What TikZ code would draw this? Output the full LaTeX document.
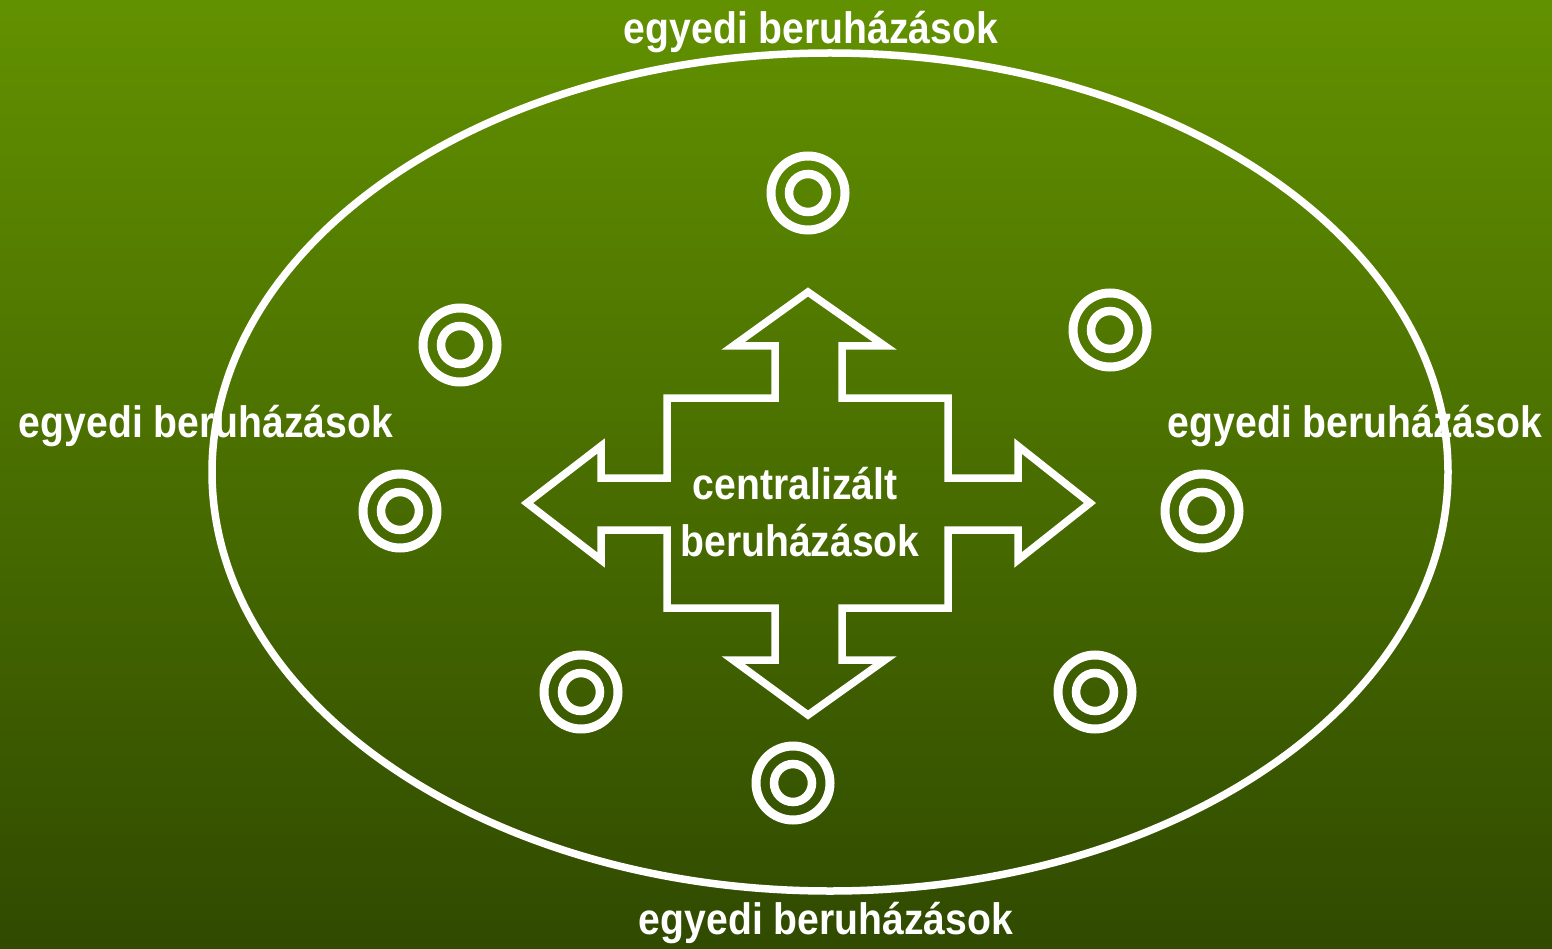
\documentclass[tikz,border=0pt]{standalone}
\usepackage{fontspec}
\setmainfont{Liberation Sans}[FakeStretch=0.89]
\definecolor{bgtop}{RGB}{98,145,0}
\definecolor{bgbot}{RGB}{48,74,0}
\tikzset{
  lbl/.style={text=white,font=\bfseries\fontsize{44}{50}\selectfont,anchor=base,inner sep=0pt},
  wline/.style={draw=white,line width=7.5pt},
  ring/.style={draw=white,line width=9pt}
}
\begin{document}
\begin{tikzpicture}[x=1pt,y=-1pt]
\shade[top color=bgtop,bottom color=bgbot] (0,0) rectangle (1552,949);
\path[use as bounding box] (0,0) rectangle (1552,949);
% big ellipse
\draw[wline] (830,472) ellipse [x radius=618pt, y radius=419pt];
% cross of arrows
\draw[wline,line join=miter]
  (808,292) -- (885,346) -- (842,346) -- (842,398) -- (948,398) -- (948,478)
  -- (1018,478) -- (1018,446) -- (1090,503) -- (1018,560) -- (1018,530)
  -- (948,530) -- (948,608) -- (842,608) -- (842,660) -- (885,660)
  -- (808,715) -- (733,660) -- (775,660) -- (775,608) -- (667,608)
  -- (667,530) -- (601,530) -- (601,560) -- (527,503) -- (601,446)
  -- (601,478) -- (667,478) -- (667,398) -- (775,398) -- (775,346)
  -- (733,346) -- cycle;
% targets
\foreach \n/\x/\y in {1/808/193,2/460/345,3/1110/330,4/400/511,5/1202/511,6/581/692,7/1095/692,8/793/783}{
  \coordinate (t\n) at (\x,\y);
  \draw[ring] (t\n) circle[radius=37pt];
  \draw[ring,line width=8.5pt] (t\n) circle[radius=19pt];
}
% labels
\node[lbl] (top) at (811,44) {egyedi beruházások};
\node[lbl] (left) at (206,437) {egyedi beruházások};
\node[lbl] (right) at (1355,437) {egyedi beruházások};
\node[lbl] (bottom) at (826,934) {egyedi beruházások};
\node[lbl] (c1) at (795,499) {centralizált};
\node[lbl] (c2) at (800,556) {beruházások};
\end{tikzpicture}
\end{document}
